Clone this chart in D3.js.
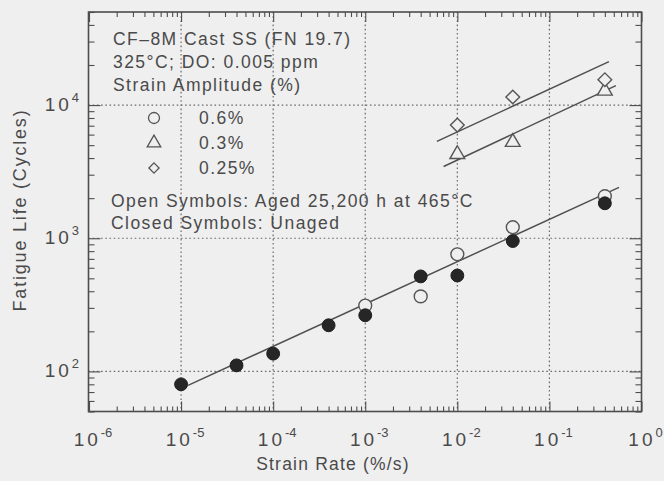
<!DOCTYPE html>
<html>
<head>
<meta charset="utf-8">
<script src="https://cdn.jsdelivr.net/npm/d3@7"></script>
<style>
  html, body { margin: 0; padding: 0; background: #efefef; }
  svg { display: block; }
  text { font-family: "Liberation Sans", Arial, Helvetica, sans-serif; fill: #4a4a4a; }
</style>
</head>
<body>
<svg id="chart" width="664" height="481"></svg>
<script>
// Strain rates (%/s) at which tests were run
const ratesUnaged06 = [1e-5, 4e-5, 1e-4, 4e-4, 1e-3, 4e-3, 1e-2, 4e-2, 0.4];
const lifeUnaged06  = [80, 111, 136, 222, 264, 517, 525, 953, 1830];

const ratesAged06 = [1e-3, 4e-3, 1e-2, 4e-2, 0.4];
const lifeAged06  = [312, 366, 758, 1210, 2070];

const ratesAged03 = [1e-2, 4e-2, 0.4];
const lifeAged03  = [4270, 5270, 12800];

const ratesAged025 = [1e-2, 4e-2, 0.4];
const lifeAged025  = [7080, 11500, 15500];

// Best-fit trend lines: [rate, life] end points
const fit06  = [[1.19e-5, 78.5], [0.57, 2410]];
const fit03  = [[7.1e-3, 3460], [0.527, 14000]];
const fit025 = [[6.0e-3, 5340], [0.443, 21200]];

// Axis decades
const xDecades = [-6, -5, -4, -3, -2, -1, 0];
const yDecades = [2, 3, 4];

const legendTitle = ["CF\u20138M Cast SS (FN 19.7)", "325\u00b0C; DO: 0.005 ppm", "Strain Amplitude (%)"];
const legendItems = [
  { shape: "circle", label: "0.6%" },
  { shape: "triangle", label: "0.3%" },
  { shape: "diamond", label: "0.25%" }
];
const legendNotes = ["Open Symbols: Aged 25,200 h at 465\u00b0C", "Closed Symbols: Unaged"];

const svg = d3.select("#chart");
const plotL = 88.5, plotR = 641.5, plotT = 12, plotB = 411.5;

const x = d3.scaleLog().domain([1e-6, 1]).range([89, 641.5]);
const y = d3.scaleLog().domain([50, 50000]).range([plotB, plotT]);

const ink = "#4d4d4d";

// background
svg.append("rect").attr("width", 664).attr("height", 481).attr("fill", "#efefef");

// dotted decade grid
const grid = svg.append("g").attr("stroke", "#6a6a6a").attr("stroke-width", 1.2)
  .attr("stroke-dasharray", "1.6,2.6");
xDecades.slice(1, -1).forEach(d => {
  grid.append("line").attr("x1", x(Math.pow(10, d))).attr("x2", x(Math.pow(10, d)))
    .attr("y1", plotT).attr("y2", plotB);
});
yDecades.forEach(d => {
  grid.append("line").attr("y1", y(Math.pow(10, d))).attr("y2", y(Math.pow(10, d)))
    .attr("x1", plotL).attr("x2", plotR);
});

// minor tick values
const xMinor = [];
for (let d = -6; d < 0; d++) for (let m = 2; m <= 9; m++) xMinor.push(m * Math.pow(10, d));
const yMinor = [];
for (let d = 1; d <= 4; d++) for (let m = 2; m <= 9; m++) {
  const v = m * Math.pow(10, d);
  if (v >= 50 && v <= 50000) yMinor.push(v);
}
const xMajor = xDecades.map(d => Math.pow(10, d));
const yMajor = yDecades.map(d => Math.pow(10, d));

function styleAxis(g) {
  g.select(".domain").remove();
  g.selectAll(".tick line").attr("stroke", ink).attr("stroke-width", 1.1);
  g.selectAll(".tick text").remove();
}

// inward ticks on all four sides
svg.append("g").attr("transform", `translate(0,${plotB})`)
  .call(d3.axisBottom(x).tickValues(xMinor).tickSize(-5)).call(styleAxis);
svg.append("g").attr("transform", `translate(0,${plotB})`)
  .call(d3.axisBottom(x).tickValues(xMajor).tickSize(-10)).call(styleAxis);
svg.append("g").attr("transform", `translate(0,${plotT})`)
  .call(d3.axisTop(x).tickValues(xMinor).tickSize(-5)).call(styleAxis);
svg.append("g").attr("transform", `translate(0,${plotT})`)
  .call(d3.axisTop(x).tickValues(xMajor).tickSize(-10)).call(styleAxis);
svg.append("g").attr("transform", `translate(${plotL},0)`)
  .call(d3.axisLeft(y).tickValues(yMinor).tickSize(-6)).call(styleAxis);
svg.append("g").attr("transform", `translate(${plotL},0)`)
  .call(d3.axisLeft(y).tickValues(yMajor).tickSize(-12)).call(styleAxis);
svg.append("g").attr("transform", `translate(${plotR},0)`)
  .call(d3.axisRight(y).tickValues(yMinor).tickSize(-6)).call(styleAxis);
svg.append("g").attr("transform", `translate(${plotR},0)`)
  .call(d3.axisRight(y).tickValues(yMajor).tickSize(-12)).call(styleAxis);

// frame
svg.append("rect").attr("x", plotL).attr("y", plotT)
  .attr("width", plotR - plotL).attr("height", plotB - plotT)
  .attr("fill", "none").attr("stroke", ink).attr("stroke-width", 1.6);

// power-of-ten tick labels
function powLabel(sel, exp) {
  sel.append("tspan").attr("letter-spacing", "3px").text("10");
  sel.append("tspan").attr("dy", -9).attr("font-size", "13px").text(String(exp));
}
xDecades.forEach(d => {
  const t = svg.append("text").attr("x", x(Math.pow(10, d)) + 4).attr("y", 446)
    .attr("text-anchor", "middle").attr("font-size", "19px");
  powLabel(t, d);
});
yDecades.forEach(d => {
  const t = svg.append("text").attr("x", 79).attr("y", y(Math.pow(10, d)) + 6)
    .attr("text-anchor", "end").attr("font-size", "19px");
  powLabel(t, d);
});

// axis titles
svg.append("text").attr("x", 333).attr("y", 470).attr("text-anchor", "middle")
  .attr("font-size", "17.5px").attr("letter-spacing", "1.2px").text("Strain Rate (%/s)");
svg.append("text").attr("transform", "translate(26,210) rotate(-90)").attr("text-anchor", "middle")
  .attr("font-size", "18px").attr("letter-spacing", "1.8px").text("Fatigue Life (Cycles)");

// trend lines
const line = d3.line().x(d => x(d[0])).y(d => y(d[1]));
[fit06, fit03, fit025].forEach(f => {
  svg.append("path").attr("d", line(f)).attr("fill", "none")
    .attr("stroke", "#505050").attr("stroke-width", 1.5);
});

// marker shapes
const symType = { circle: d3.symbolCircle, triangle: d3.symbolTriangle, diamond: d3.symbolDiamond2 };
const plotSize = { circle: 130, triangle: 95, diamond: 120 };
const legendSize = { circle: 95, triangle: 80, diamond: 66 };
function openMarks(rates, lives, shape) {
  svg.append("g").selectAll("path").data(rates).join("path")
    .attr("transform", (r, i) => `translate(${x(r)},${y(lives[i])})`)
    .attr("d", d3.symbol().type(symType[shape]).size(plotSize[shape])())
    .attr("fill", "#efefef").attr("stroke", "#555").attr("stroke-width", 1.4);
}
openMarks(ratesAged06, lifeAged06, "circle");
openMarks(ratesAged03, lifeAged03, "triangle");
openMarks(ratesAged025, lifeAged025, "diamond");

// unaged (closed) circles
svg.append("g").selectAll("path").data(ratesUnaged06).join("path")
  .attr("transform", (r, i) => `translate(${x(r)},${y(lifeUnaged06[i])})`)
  .attr("d", d3.symbol().type(d3.symbolCircle).size(plotSize.circle)())
  .attr("fill", "#262626").attr("stroke", "#1e1e1e").attr("stroke-width", 1);

// legend block
const legFont = "17.5px", legSpacing = "1.45px";
legendTitle.forEach((s, i) => {
  svg.append("text").attr("x", 113).attr("y", 45 + i * 23)
    .attr("font-size", legFont).attr("letter-spacing", legSpacing).text(s);
});
legendItems.forEach((it, i) => {
  const cy = 118 + i * 25;
  svg.append("path").attr("transform", `translate(154,${cy})`)
    .attr("d", d3.symbol().type(symType[it.shape]).size(legendSize[it.shape])())
    .attr("fill", "none").attr("stroke", "#555").attr("stroke-width", 1.3);
  svg.append("text").attr("x", 199).attr("y", cy + 6)
    .attr("font-size", legFont).attr("letter-spacing", legSpacing).text(it.label);
});
legendNotes.forEach((s, i) => {
  svg.append("text").attr("x", 111).attr("y", 207 + i * 22)
    .attr("font-size", legFont).attr("letter-spacing", legSpacing).text(s);
});
</script>
</body>
</html>
